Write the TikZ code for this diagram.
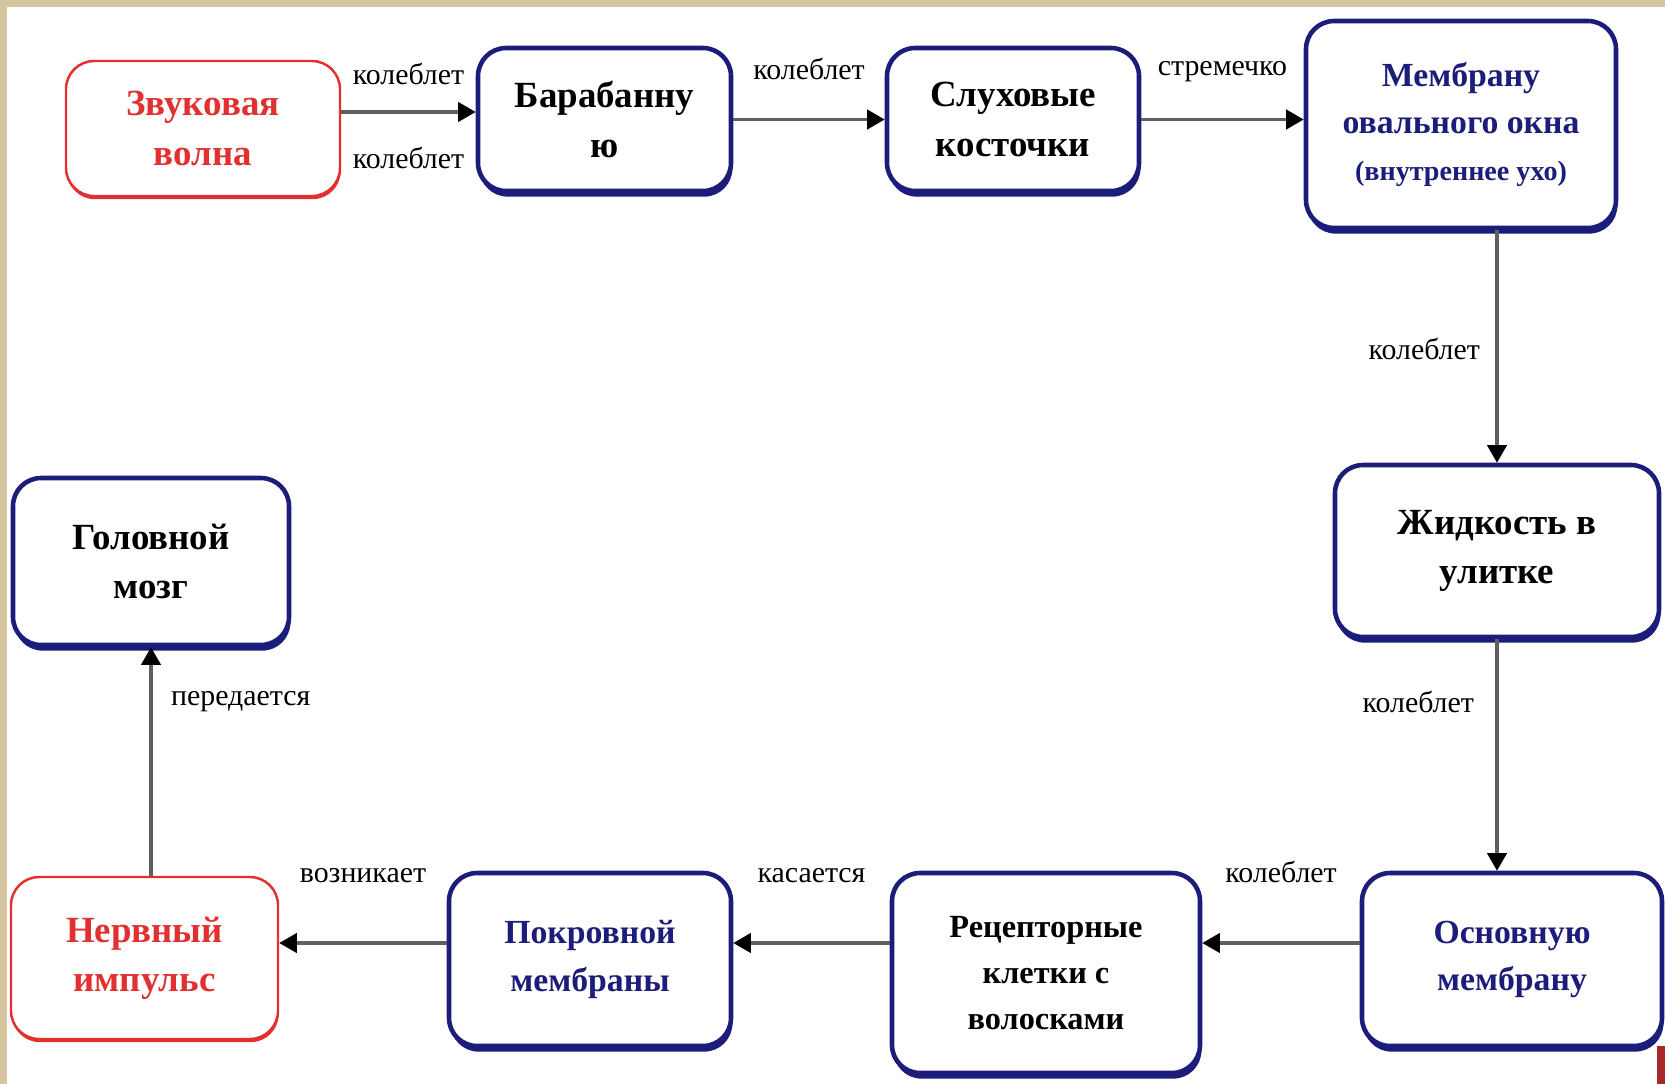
\documentclass[tikz,border=0pt]{standalone}
\usepackage{fontspec}
\setmainfont{Liberation Serif}
\usetikzlibrary{arrows.meta,shadows}

\definecolor{boxnavy}{RGB}{28,28,122}
\definecolor{boxred}{RGB}{226,48,48}
\definecolor{frametan}{RGB}{214,198,160}
\definecolor{framered}{RGB}{168,40,40}
\definecolor{linkgray}{RGB}{95,95,95}

\tikzset{
  box/.style={line width=1.3pt, rounded corners=8pt, fill=white, align=center,
    font=\bfseries\fontsize{10.5}{14}\selectfont},
  stage/.style={box, draw=boxnavy,
    drop shadow={shadow xshift=0.4pt, shadow yshift=-1.6pt, fill=boxnavy, opacity=1}},
  navystage/.style={stage, text=boxnavy, font=\bfseries\fontsize{9.6}{13.5}\selectfont},
  redstage/.style={box, draw=boxred, line width=0.7pt, text=boxred,
    drop shadow={shadow xshift=0.2pt, shadow yshift=-0.9pt, fill=boxred, opacity=1}},
  link/.style={draw=linkgray, line width=0.9pt, -{Triangle[length=5pt,width=5.5pt,color=black]}},
  verb/.style={font=\fontsize{8.5}{10}\selectfont, inner sep=1pt}
}

\begin{document}
\begin{tikzpicture}
  % Background and slide frame
  \fill[white] (0,0) rectangle (16.65,10.84);
  \fill[frametan] (0,10.77) rectangle (16.65,10.84);
  \fill[frametan] (0,0) rectangle (0.07,10.84);
  \fill[framered] (16.57,0) rectangle (16.65,0.38);
  \useasboundingbox (0,0) rectangle (16.65,10.84);

  % Top row
  \node[redstage, minimum width=2.74cm, minimum height=1.35cm] (wave) at (2.03,9.555) {Звуковая\\волна};
  \node[stage, minimum width=2.53cm, minimum height=1.43cm] (drum) at (6.045,9.645) {Барабанну\\ю};
  \node[stage, minimum width=2.52cm, minimum height=1.43cm] (ossicle) at (10.13,9.645) {Слуховые\\косточки};
  \node[navystage, minimum width=3.10cm, minimum height=2.07cm] (window) at (14.61,9.595)
    {Мембрану\\овального окна\\{\fontsize{8}{10}\selectfont(внутреннее ухо)}};

  % Right column
  \node[stage, minimum width=3.24cm, minimum height=1.72cm] (fluid) at (14.97,5.33) {Жидкость в\\улитке};

  % Bottom row
  \node[navystage, minimum width=3.00cm, minimum height=1.73cm] (basilar) at (15.12,1.245) {Основную\\мембрану};
  \node[stage, font=\bfseries\fontsize{9.2}{13.2}\selectfont, minimum width=3.08cm, minimum height=2.00cm] (hair) at (10.46,1.11) {Рецепторные\\клетки с\\волосками};
  \node[navystage, minimum width=2.82cm, minimum height=1.73cm] (tectorial) at (5.90,1.245) {Покровной\\мембраны};
  \node[redstage, minimum width=2.67cm, minimum height=1.62cm] (impulse) at (1.445,1.26) {Нервный\\импульс};

  % Left column
  \node[stage, minimum width=2.76cm, minimum height=1.67cm] (brain) at (1.51,5.225) {Головной\\мозг};

  % Connectors
  \draw[link] ([yshift=0.165cm]wave.east) -- ([yshift=0.165cm]wave.east -| drum.west)
    node[verb, midway, above=0.22cm] {колеблет}
    node[verb, midway, below=0.3cm] {колеблет};
  \draw[link] (drum.east) -- (drum.east -| ossicle.west)
    node[verb, midway, above=0.35cm] {колеблет};
  \draw[link] (ossicle.east) -- (ossicle.east -| window.west)
    node[verb, midway, above=0.33cm] {стремечко};
  \draw[link] (window.south -| fluid.north) -- (fluid.north)
    node[verb, pos=0.51, left=0.12cm] {колеблет};
  \draw[link] (fluid.south) -- (fluid.south |- basilar.north)
    node[verb, pos=0.27, left=0.18cm] {колеблет};
  \draw[link] ([yshift=0.165cm]basilar.west) -- ([yshift=0.165cm]basilar.west -| hair.east)
    node[verb, midway, above=0.55cm] {колеблет};
  \draw[link] ([yshift=0.165cm]basilar.west -| hair.west) -- ([yshift=0.165cm]basilar.west -| tectorial.east)
    node[verb, midway, above=0.55cm] {касается};
  \draw[link] ([yshift=0.165cm]basilar.west -| tectorial.west) -- ([yshift=0.165cm]basilar.west -| impulse.east)
    node[verb, midway, above=0.55cm] {возникает};
  \draw[link] (impulse.north -| brain.south) -- (brain.south)
    node[verb, pos=0.76, right=0.15cm] {передается};
\end{tikzpicture}
\end{document}
